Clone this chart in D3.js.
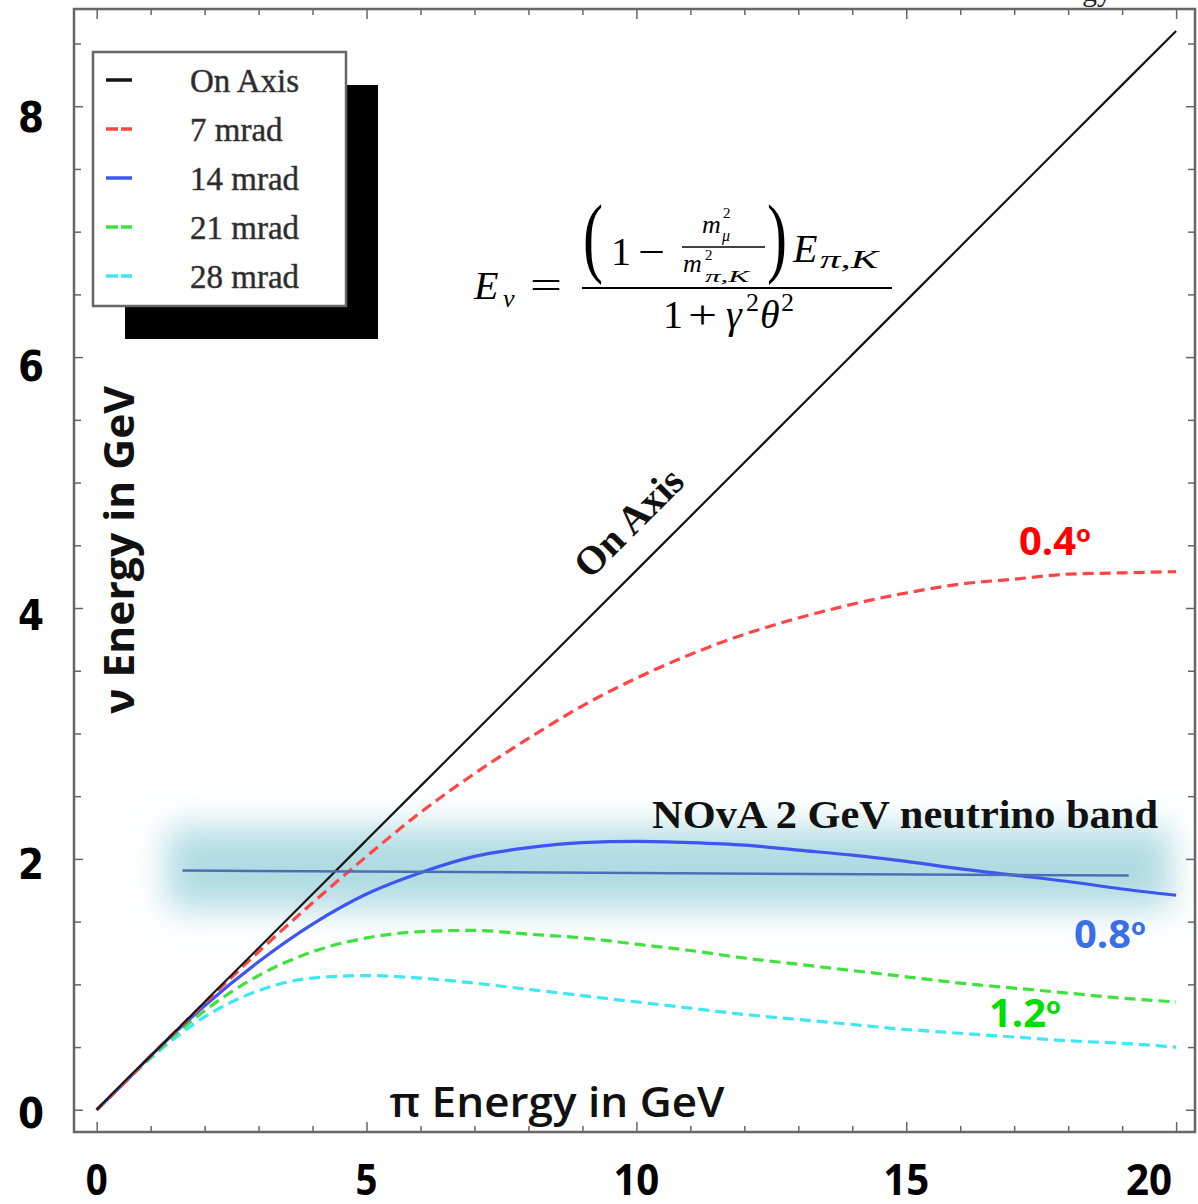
<!DOCTYPE html>
<html>
<head>
<meta charset="utf-8">
<script src="https://cdn.jsdelivr.net/npm/d3@7"></script>
<style>
  body { margin: 0; background: #fff; }
  svg { display: block; }
</style>
</head>
<body>
<script>
// Pion energy sample points (GeV) and the neutrino energy.
var piEnergy = [0, 0.5, 1, 2, 3, 4, 5, 6, 7, 8, 9, 10, 11, 12, 13, 14, 15, 16, 17, 18, 19, 20];
var onAxis  = [0, 0.22, 0.43, 0.86, 1.29, 1.72, 2.15, 2.58, 3.01, 3.44, 3.87, 4.30, 4.73, 5.16, 5.59, 6.02, 6.45, 6.88, 7.31, 7.74, 8.17, 8.60];
var mrad7   = [0, 0.21, 0.43, 0.85, 1.26, 1.65, 2.02, 2.37, 2.68, 2.96, 3.22, 3.44, 3.63, 3.79, 3.92, 4.03, 4.12, 4.19, 4.23, 4.27, 4.28, 4.29];
var mrad14  = [0, 0.21, 0.43, 0.83, 1.18, 1.48, 1.72, 1.89, 2.02, 2.09, 2.13, 2.14, 2.13, 2.11, 2.07, 2.03, 1.98, 1.92, 1.87, 1.82, 1.76, 1.71];
var mrad21  = [0, 0.21, 0.42, 0.79, 1.07, 1.26, 1.37, 1.42, 1.43, 1.40, 1.37, 1.32, 1.27, 1.21, 1.16, 1.11, 1.06, 1.01, 0.97, 0.93, 0.89, 0.86];
var mrad28  = [0, 0.21, 0.41, 0.74, 0.95, 1.05, 1.07, 1.05, 1.01, 0.96, 0.91, 0.86, 0.81, 0.76, 0.72, 0.68, 0.64, 0.61, 0.58, 0.55, 0.53, 0.50];

var legendNames = ["On Axis", "7 mrad", "14 mrad", "21 mrad", "28 mrad"];
var xTickLabels = [0, 5, 10, 15, 20];
var yTickLabels = [0, 2, 4, 6, 8];

// NOvA band and the 2 GeV reference line
var bandX = [1.3, 19.9];
var bandY = [1.6, 2.25];
var refLineX = [1.59, 19.12];
var refLineY = [1.907, 1.867];

var W = 1198, H = 1204;
var box = { left: 74, top: 9, right: 1195, bottom: 1132 };

var x = d3.scaleLinear().domain([-0.42, 20.35]).range([box.left, box.right]);
var y = d3.scaleLinear().domain([-0.177, 8.775]).range([box.bottom, box.top]);

var svg = d3.select("body").append("svg")
  .attr("width", W)
  .attr("height", H);

var defs = svg.append("defs");
defs.append("filter")
    .attr("id", "bandBlur")
    .attr("x", "-20%").attr("y", "-100%")
    .attr("width", "140%").attr("height", "300%")
  .append("feGaussianBlur")
    .attr("stdDeviation", 17);
defs.append("filter")
    .attr("id", "soft")
  .append("feGaussianBlur")
    .attr("stdDeviation", 0.5);

// cut off title fragment at the very top
svg.append("text")
  .attr("x", 1082).attr("y", 1)
  .style("font-family", "'Liberation Serif', serif")
  .style("font-size", "30px")
  .style("fill", "#222")
  .text("gy");

// the glowing band behind the curves
svg.append("rect")
  .attr("x", x(bandX[0]))
  .attr("y", y(bandY[1]))
  .attr("width", x(bandX[1]) - x(bandX[0]))
  .attr("height", y(bandY[0]) - y(bandY[1]))
  .attr("fill", "#b0dbe2")
  .attr("filter", "url(#bandBlur)");

// ticks on all four sides, pointing inward
function styleTicks(g, majorEvery, minorLen, majorLen, dir) {
  g.select(".domain").remove();
  g.selectAll(".tick line")
    .attr("stroke", "#666")
    .attr("stroke-width", 1.5)
    .each(function (d) {
      var isMajor = Math.abs(d / majorEvery - Math.round(d / majorEvery)) < 1e-6;
      var len = isMajor ? majorLen : minorLen;
      var ln = d3.select(this);
      if (dir === "x2") ln.attr("x2", len);
      if (dir === "-x2") ln.attr("x2", -len);
      if (dir === "y2") ln.attr("y2", len);
      if (dir === "-y2") ln.attr("y2", -len);
    });
}
var xTicks = d3.range(0, 21, 1);
var yTicks = d3.range(0, 8.76, 0.5);

svg.append("g").attr("transform", "translate(0," + box.bottom + ")")
  .call(d3.axisBottom(x).tickValues(xTicks).tickFormat(""))
  .call(styleTicks, 5, 6, 10, "-y2");
svg.append("g").attr("transform", "translate(0," + box.top + ")")
  .call(d3.axisTop(x).tickValues(xTicks).tickFormat(""))
  .call(styleTicks, 5, 6, 10, "y2");
svg.append("g").attr("transform", "translate(" + box.left + ",0)")
  .call(d3.axisLeft(y).tickValues(yTicks).tickFormat(""))
  .call(styleTicks, 2, 7, 9, "x2");
svg.append("g").attr("transform", "translate(" + box.right + ",0)")
  .call(d3.axisRight(y).tickValues(yTicks).tickFormat(""))
  .call(styleTicks, 2, 7, 9, "-x2");

svg.append("rect")
  .attr("x", box.left).attr("y", box.top)
  .attr("width", box.right - box.left)
  .attr("height", box.bottom - box.top)
  .attr("fill", "none")
  .attr("stroke", "#666")
  .attr("stroke-width", 2.5);

// curves
var series = [
  { name: "On Axis", values: onAxis, color: "#151515", width: 2.2, dash: null },
  { name: "7 mrad",  values: mrad7,  color: "#ff4545", width: 3.2, dash: "11,6" },
  { name: "14 mrad", values: mrad14, color: "#3d56f2", width: 3.2, dash: null },
  { name: "21 mrad", values: mrad21, color: "#3ee23e", width: 3.2, dash: "11,6" },
  { name: "28 mrad", values: mrad28, color: "#3ee8f2", width: 3.2, dash: "11,6" }
];

var line = d3.line()
  .x(function (d) { return x(d[0]); })
  .y(function (d) { return y(d[1]); })
  .curve(d3.curveMonotoneX);

// draw the lower curves first so the black line ends up on top near the origin
series.slice().reverse().forEach(function (s) {
  var pts = piEnergy.map(function (e, i) { return [e, s.values[i]]; });
  svg.append("path")
    .datum(pts)
    .attr("d", line)
    .attr("fill", "none")
    .attr("stroke", s.color)
    .attr("stroke-width", s.width)
    .attr("stroke-dasharray", s.dash)
    .attr("filter", "url(#soft)");
});

// 2 GeV reference line
svg.append("line")
  .attr("x1", x(refLineX[0])).attr("y1", y(refLineY[0]))
  .attr("x2", x(refLineX[1])).attr("y2", y(refLineY[1]))
  .attr("stroke", "#4a70b4")
  .attr("stroke-width", 2.5);

// tick labels
svg.selectAll(".xlab")
  .data(xTickLabels)
  .enter().append("text")
  .attr("class", "xlab")
  .attr("x", function (d) { return d === 20 ? 1172 : x(d); })
  .attr("y", 1195)
  .attr("text-anchor", function (d) { return d === 20 ? "end" : "middle"; })
  .attr("textLength", function (d) { return d < 10 ? 22 : 46; })
  .attr("lengthAdjust", "spacingAndGlyphs")
  .style("font-family", "'Open Sans', sans-serif")
  .style("font-weight", "bold")
  .style("font-size", "43px")
  .style("fill", "#000")
  .text(function (d) { return d; });

var yLabPos = d3.scaleLinear().domain([0, 8]).range([1113, 117]);
svg.selectAll(".ylab")
  .data(yTickLabels)
  .enter().append("text")
  .attr("class", "ylab")
  .attr("x", 31)
  .attr("y", function (d) { return yLabPos(d) + 15; })
  .attr("text-anchor", "middle")
  .attr("textLength", 26)
  .attr("lengthAdjust", "spacingAndGlyphs")
  .style("font-family", "'DejaVu Sans', sans-serif")
  .style("font-weight", "bold")
  .style("font-size", "42px")
  .style("fill", "#000")
  .text(function (d) { return d; });

// axis titles
svg.append("text")
  .attr("transform", "translate(134,550) rotate(-90)")
  .attr("text-anchor", "middle")
  .attr("textLength", 328)
  .attr("lengthAdjust", "spacingAndGlyphs")
  .style("font-family", "'Open Sans', sans-serif")
  .style("font-weight", "bold")
  .style("font-size", "42px")
  .style("fill", "#111")
  .text("\u03bd Energy in GeV");

svg.append("text")
  .attr("x", 557).attr("y", 1117)
  .attr("text-anchor", "middle")
  .attr("textLength", 335)
  .attr("lengthAdjust", "spacingAndGlyphs")
  .style("font-family", "'Open Sans', sans-serif")
  .style("font-weight", 600)
  .style("font-size", "42px")
  .style("fill", "#111")
  .text("\u03c0 Energy in GeV");

// labels on the curves
svg.append("text")
  .attr("transform", "translate(638,532) rotate(-45)")
  .attr("text-anchor", "middle")
  .style("font-family", "'Liberation Serif', serif")
  .style("font-weight", "bold")
  .style("font-size", "40px")
  .style("fill", "#111")
  .text("On Axis");

svg.append("text")
  .attr("x", 652).attr("y", 828)
  .attr("textLength", 506)
  .attr("lengthAdjust", "spacingAndGlyphs")
  .style("font-family", "'Liberation Serif', serif")
  .style("font-weight", "bold")
  .style("font-size", "40px")
  .style("fill", "#111")
  .text("NOvA 2 GeV neutrino band");

var angleLabels = [
  { text: "0.4", x: 1019, y: 555, color: "#ff0000" },
  { text: "0.8", x: 1074, y: 948, color: "#3a6ee6" },
  { text: "1.2", x: 989,  y: 1027, color: "#00dd00" }
];
angleLabels.forEach(function (a) {
  var t = svg.append("text")
    .attr("x", a.x).attr("y", a.y)
    .style("font-family", "'Open Sans', sans-serif")
    .style("font-weight", "bold")
    .style("font-size", "40px")
    .style("fill", a.color);
  t.append("tspan").attr("textLength", 57).attr("lengthAdjust", "spacingAndGlyphs").text(a.text);
  t.append("tspan").attr("dy", -13).style("font-size", "24px").text("o");
});

// formula for the neutrino energy
var fm = svg.append("g").style("font-family", "'Liberation Serif', serif").style("fill", "#000");
function ftext(str, px, py, size, italic, len) {
  var t = fm.append("text")
    .attr("x", px).attr("y", py)
    .style("font-size", size + "px")
    .style("font-style", italic ? "italic" : "normal")
    .text(str);
  if (len) t.attr("textLength", len).attr("lengthAdjust", "spacingAndGlyphs");
  return t;
}
ftext("E", 474, 299, 40, true);
ftext("\u03bd", 503, 307, 26, true);
ftext("=", 530, 299, 40, false, 32);
fm.append("line").attr("x1", 582).attr("x2", 892).attr("y1", 288).attr("y2", 288)
  .attr("stroke", "#000").attr("stroke-width", 2);
ftext("(", 583, 266, 88, false, 20);
ftext("1", 611, 265, 40, false);
ftext("\u2212", 638, 265, 40, false, 27);
// inner fraction m_mu^2 / m_{pi,K}^2
ftext("m", 702, 233, 26, true);
ftext("2", 723, 218, 15, false);
ftext("\u03bc", 722, 241, 16, true);
fm.append("line").attr("x1", 682).attr("x2", 765).attr("y1", 247).attr("y2", 247)
  .attr("stroke", "#000").attr("stroke-width", 1.5);
ftext("m", 683, 272, 26, true);
ftext("2", 705, 260, 15, false);
ftext("\u03c0,K", 705, 282, 16, true, 44);
ftext(")", 767, 266, 88, false, 20);
ftext("E", 793, 262, 40, true);
ftext("\u03c0,K", 820, 268, 26, true, 58);
ftext("1", 663, 328, 40, false);
ftext("+", 688, 328, 40, false, 29);
ftext("\u03b3", 726, 328, 40, true);
ftext("2", 746, 311, 26, false);
ftext("\u03b8", 760, 328, 40, true);
ftext("2", 781, 311, 26, false);

// legend with its offset black shadow
var leg = { x: 93, y: 52, w: 253, h: 254 };
svg.append("rect")
  .attr("x", leg.x + 32).attr("y", leg.y + 33)
  .attr("width", leg.w).attr("height", leg.h)
  .attr("fill", "#000");
svg.append("rect")
  .attr("x", leg.x).attr("y", leg.y)
  .attr("width", leg.w).attr("height", leg.h)
  .attr("fill", "#fff")
  .attr("stroke", "#666")
  .attr("stroke-width", 2.5);

var rowY = d3.scalePoint().domain(legendNames).range([80, 276]);
series.forEach(function (s) {
  svg.append("line")
    .attr("x1", 106).attr("x2", 132)
    .attr("y1", rowY(s.name)).attr("y2", rowY(s.name))
    .attr("stroke", s.color)
    .attr("stroke-width", 3.5)
    .attr("stroke-dasharray", s.dash ? "12,3" : null);
  svg.append("text")
    .attr("x", 190)
    .attr("y", rowY(s.name) + 12)
    .style("font-family", "'Liberation Serif', serif")
    .style("font-size", "33px")
    .style("fill", "#2a2a2a")
    .style("stroke", "#444")
    .style("stroke-width", 0.5)
    .text(s.name);
});
</script>
</body>
</html>
